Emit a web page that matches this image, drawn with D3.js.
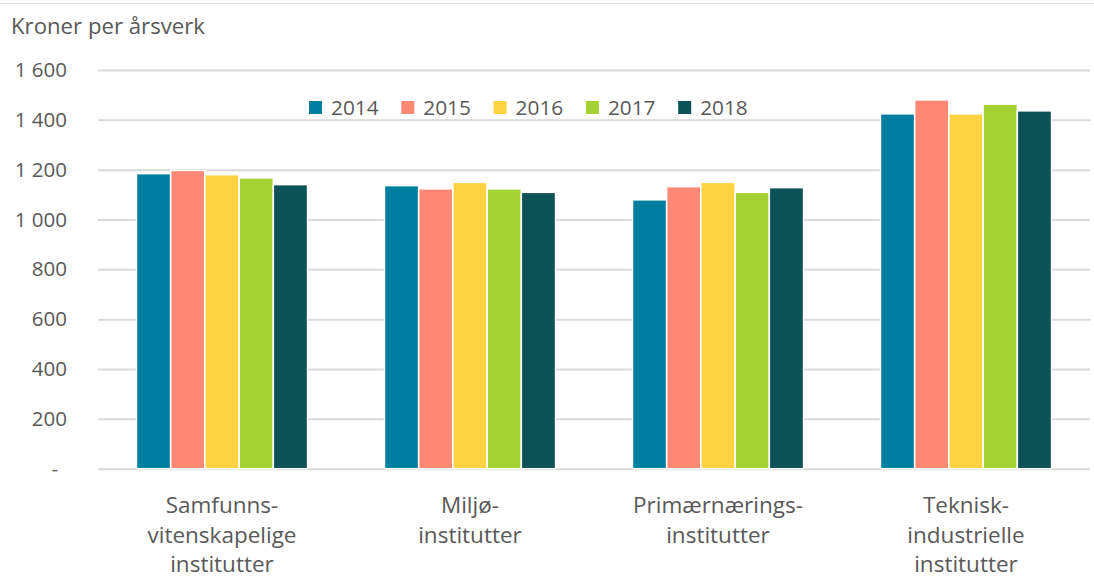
<!DOCTYPE html>
<html>
<head>
<meta charset="utf-8">
<script src="https://cdn.jsdelivr.net/npm/d3@7"></script>
<style>
  body { margin: 0; background: #fff; }
  svg text { font-family: "Open Sans", "Noto Sans", sans-serif; fill: #595959; }
</style>
</head>
<body>
<div id="chart"></div>
<script>
const categories = [
  ["Samfunns-", "vitenskapelige", "institutter"],
  ["Miljø-", "institutter"],
  ["Primærnærings-", "institutter"],
  ["Teknisk-", "industrielle", "institutter"]
];
const years = ["2014", "2015", "2016", "2017", "2018"];
const values2014 = [1184, 1136, 1079, 1424];
const values2015 = [1197, 1123, 1132, 1480];
const values2016 = [1180, 1149, 1149, 1424];
const values2017 = [1167, 1123, 1109, 1463];
const values2018 = [1140, 1109, 1128, 1436];
const yTicks = [0, 200, 400, 600, 800, 1000, 1200, 1400, 1600];
const colors = ["#007ea0", "#ff8874", "#ffd240", "#a6d135", "#0c5257"];

const series = [values2014, values2015, values2016, values2017, values2018];

const width = 1094, height = 579;
const margin = { top: 70, right: 4, bottom: 110, left: 98 };

const svg = d3.select("#chart").append("svg")
    .attr("width", width)
    .attr("height", height);

// thin frame line at top
svg.append("line")
    .attr("x1", 0).attr("x2", width)
    .attr("y1", 3.5).attr("y2", 3.5)
    .attr("stroke", "#e3e3e3");

const x0 = d3.scaleBand()
    .domain(d3.range(categories.length))
    .range([margin.left, width - margin.right])
    .paddingInner(0.31)
    .paddingOuter(0.155);

const x1 = d3.scaleBand()
    .domain(years)
    .range([0, x0.bandwidth()]);

const y = d3.scaleLinear()
    .domain([0, 1600])
    .range([height - margin.bottom - 0.3, margin.top]);

// gridlines + tick labels
const yAxis = d3.axisLeft(y)
    .tickValues(yTicks)
    .tickSize(-(width - margin.right - margin.left))
    .tickFormat(d => d === 0 ? "-" : d3.format(",")(d).replace(",", " "));

const gy = svg.append("g")
    .attr("transform", `translate(${margin.left},0)`)
    .call(yAxis);
gy.select(".domain").remove();
gy.selectAll(".tick line")
    .attr("stroke", "#d9d9d9")
    .attr("stroke-width", 2);
gy.selectAll(".tick text")
    .attr("font-size", 20.5)
    .attr("text-anchor", "end")
    .attr("x", d => d === 0 ? -40 : -31);

// bars
const groups = svg.append("g").selectAll("g")
    .data(categories)
    .join("g")
    .attr("transform", (d, i) => `translate(${x0(i)},0)`);

groups.selectAll("rect")
    .data((d, i) => years.map((yr, k) => ({ yr, k, v: series[k][i] })))
    .join("rect")
    .attr("x", d => x1(d.yr))
    .attr("width", x1.bandwidth())
    .attr("y", d => y(d.v))
    .attr("height", d => y(0) - y(d.v))
    .attr("fill", d => colors[d.k])
    .attr("stroke", "#fff")
    .attr("stroke-width", 1.5);

// category labels
groups.append("text")
    .attr("text-anchor", "middle")
    .attr("font-size", 22.5)
    .selectAll("tspan")
    .data(d => d)
    .join("tspan")
    .attr("x", x0.bandwidth() / 2)
    .attr("y", (d, i) => 513 + i * 29.5)
    .text(d => d);

// axis title
svg.append("text")
    .attr("x", 11)
    .attr("y", 34)
    .attr("font-size", 22.2)
    .text("Kroner per årsverk");

// legend
const legend = svg.append("g")
    .attr("transform", "translate(309,107)");
const item = legend.selectAll("g")
    .data(years)
    .join("g")
    .attr("transform", (d, i) => `translate(${i * 92.3},0)`);
item.append("rect")
    .attr("x", 0).attr("y", -6)
    .attr("width", 13).attr("height", 13)
    .attr("fill", (d, i) => colors[i]);
item.append("text")
    .attr("x", 22)
    .attr("y", 7.5)
    .attr("font-size", 20.8)
    .text(d => d);
</script>
</body>
</html>
